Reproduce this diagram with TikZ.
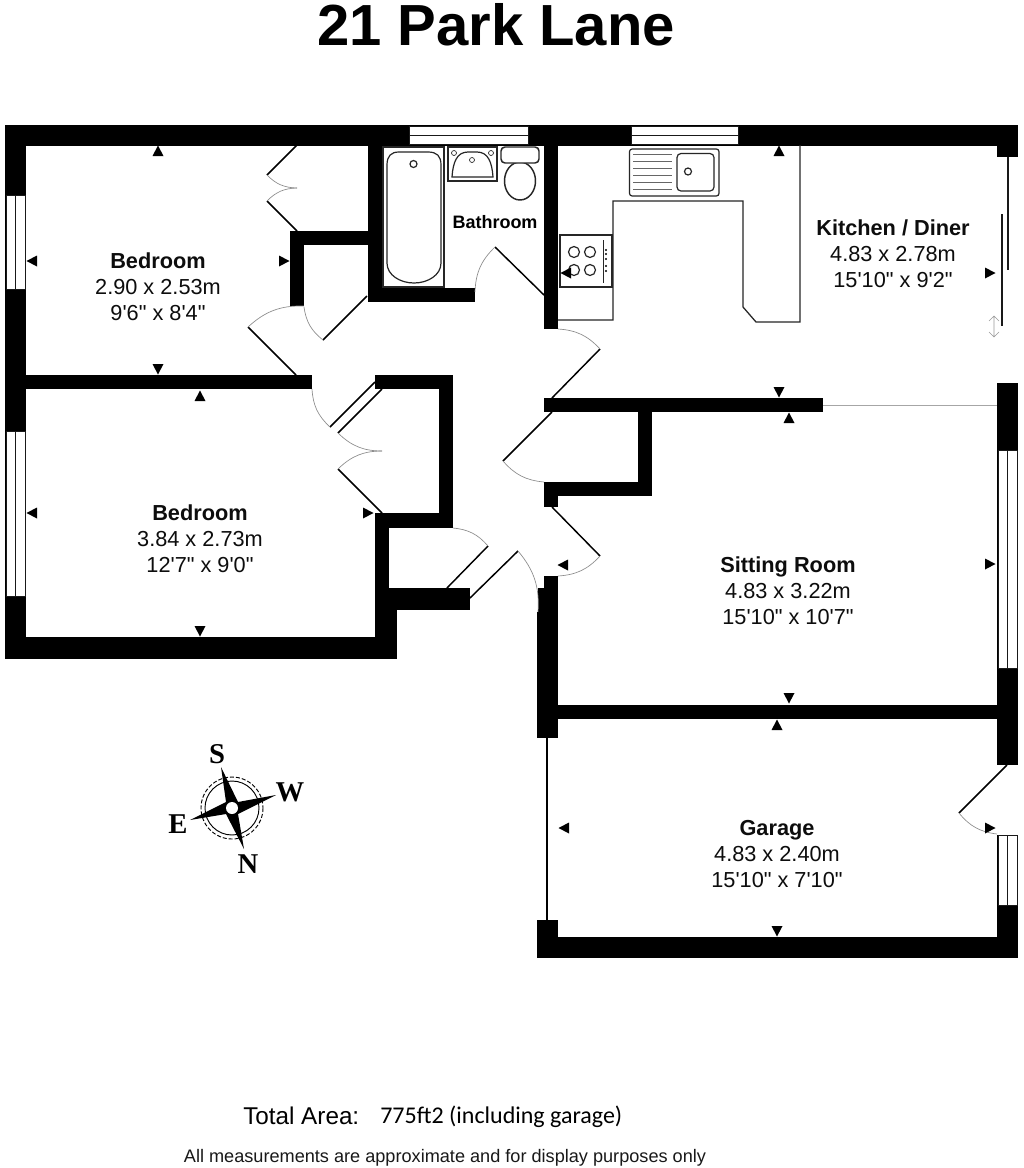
\documentclass[tikz,border=0pt]{standalone}
\usepackage{fontspec}
\newfontfamily\arial{Liberation Sans}
\newfontfamily\calib{Carlito}
\newfontfamily\tserif{Liberation Serif}
\newcommand{\wallbox}[4]{\fill[wall] (#1,#2) rectangle (#3,#4);}
\newcommand{\winH}[4]{\draw[winline] (#1,#2) rectangle (#3,#4); \draw[winmid] (#1,{(#2+#4)/2}) -- (#3,{(#2+#4)/2});}
\newcommand{\winV}[4]{\draw[winline] (#1,#2) rectangle (#3,#4); \draw[winmid] ({(#1+#3)/2},#2) -- ({(#1+#3)/2},#4);}
\newcommand{\triU}[2]{\fill[black] (#1-5.5,#2+5) -- (#1+5.5,#2+5) -- (#1,#2-5.5) -- cycle;}
\newcommand{\triD}[2]{\fill[black] (#1-5.5,#2-5) -- (#1+5.5,#2-5) -- (#1,#2+5.5) -- cycle;}
\newcommand{\triL}[2]{\fill[black] (#1+5,#2-5.5) -- (#1+5,#2+5.5) -- (#1-5.5,#2) -- cycle;}
\newcommand{\triR}[2]{\fill[black] (#1-5,#2-5.5) -- (#1-5,#2+5.5) -- (#1+5.5,#2) -- cycle;}
\newcommand{\doorleaf}[4]{\draw[door] (#1,#2) -- (#3,#4);}
\newcommand{\swing}[4]{\draw[swingline] (#1,#2) to[bend left=22] (#3,#4);}
\tikzset{
  wall/.style={fill=black},
  winline/.style={draw=black!90,fill=white,line width=0.7pt},
  winmid/.style={draw=black!90,line width=1pt},
  door/.style={draw=black,line width=1.1pt},
  swingline/.style={draw=black!45,line width=0.5pt},
  unitline/.style={draw=black!85,line width=0.95pt},
  fixture/.style={draw=black!85,line width=0.9pt},
  roomlabel/.style={align=center,inner sep=0pt,text=black!95,font=\arial\fontsize{16.3}{19.5}\selectfont},
  compassletter/.style={inner sep=0pt,font=\tserif\bfseries\fontsize{21.5}{21.5}\selectfont}
}
\begin{document}
\begin{tikzpicture}[x=0.75pt,y=-0.75pt]
\useasboundingbox (0,0) rectangle (1024,1168);
\fill[white] (0,0) rectangle (1024,1168);

% title
\node[inner sep=0pt,font=\arial\bfseries\fontsize{43.5}{50}\selectfont] (title) at (496,24.5) {21 Park Lane};

% outer and inner walls
\wallbox{5}{124.5}{1018}{145.5}
\wallbox{5}{124.5}{26}{659}
\wallbox{5}{637}{397}{659}
\wallbox{26}{375}{312}{389}
\wallbox{375}{375}{453}{389}
\wallbox{439}{375}{453}{528}
\wallbox{375}{513}{453}{528}
\wallbox{375}{513}{389}{659}
\wallbox{375}{588}{470}{610}
\wallbox{375}{610}{397}{659}
\wallbox{368}{145}{382}{302}
\wallbox{368}{288}{475}{302}
\wallbox{290}{231}{368}{245}
\wallbox{290}{231}{304}{306}
\wallbox{544}{124.5}{558}{329}
\wallbox{544}{398}{823}{412}
\wallbox{638}{398}{652}{496}
\wallbox{544}{482}{652}{496}
\wallbox{544}{482}{558}{507}
\wallbox{544}{576}{558}{738}
\wallbox{538}{588}{558}{612}
\wallbox{537}{612}{558}{738}
\wallbox{545}{705}{1018}{719}
\wallbox{997}{383}{1018}{765}
\wallbox{997}{124.5}{1018}{157}
\wallbox{997}{835}{1018}{958}
\wallbox{537}{937}{1018}{958}
\wallbox{537}{920}{558}{958}

% windows
\winH{409}{126}{528}{144.5}
\winH{631}{126}{738}{144.5}
\winV{6}{195}{25.5}{289}
\winV{6}{431}{25.5}{596}
\winV{998}{450}{1017.5}{668}
\winV{998}{835}{1017.5}{905}

% doors
\doorleaf{297}{145}{267}{175}
\swing{297}{188}{267}{175}
\doorleaf{267}{201}{297}{231}
\swing{267}{201}{297}{188}
\doorleaf{248}{327}{296}{375}
\swing{248}{327}{304}{306}
\doorleaf{323}{340}{367}{296}
\swing{323}{340}{304}{307}
\doorleaf{495}{247}{544}{295}
\swing{475}{292}{495}{247}
\doorleaf{600}{349}{552}{398}
\swing{558}{329}{600}{349}
\doorleaf{552}{412}{503}{461}
\swing{544}{482}{503}{461}
\doorleaf{552}{507}{600}{556}
\swing{600}{556}{558}{576}
\doorleaf{470}{598}{518}{551}
\swing{518}{551}{538}{612}
\doorleaf{447}{588}{488}{546}
\swing{453}{528}{488}{546}
\doorleaf{330}{427}{375}{382}
\swing{330}{427}{312}{389}
\doorleaf{338}{433}{382}{389}
\swing{382}{451}{338}{433}
\doorleaf{338}{469}{382}{513}
\swing{338}{469}{382}{451}
\doorleaf{1007}{765}{959}{813}
\swing{997}{834}{959}{813}

% garage opening, sliding door, open divide
\draw[black,line width=0.9pt] (547,738) -- (547,920);
\draw[black!90,line width=1.2pt] (1008,157) -- (1008,270);
\draw[black!90,line width=1.2pt] (1002,214) -- (1002,326);
\draw[black!35,line width=0.5pt] (823,405) -- (997,405);
\draw[black!40,line width=0.5pt] (994,316) -- (994,337)
  (989,321) -- (994,316) -- (999,321)
  (989,332) -- (994,337) -- (999,332);

% kitchen units
\draw[unitline] (800,145) -- (800,322) -- (756,322) -- (743,307) -- (743,201) -- (613,201) -- (613,320) -- (558,320);
\draw[fixture,rounded corners=2pt] (629.5,149) rectangle (719,196);
\draw[fixture,rounded corners=3pt] (677,153.5) rectangle (714,191);
\draw[fixture] (688,171.5) circle (3.5);
\foreach \yy in {154,161,168,175,182,189}{\draw[black!60,line width=0.7pt] (633,\yy) -- (672,\yy);}
\draw[fixture,fill=white] (560,235) rectangle (612,287);
\foreach \xx/\yy in {574/252,590/252,574/270,590/270}{\draw[fixture] (\xx,\yy) circle (5.5);}
\draw[black!85,line width=0.7pt] (603,240) -- (603,283);
\foreach \yy in {250,254,259,266,271}{\fill[black] (606,\yy) circle (1.1);}

% bathroom fixtures
\draw[fixture] (383,147) rectangle (444,287);
\draw[fixture] (387,165) .. controls (387,156) and (391,152) .. (399,152) -- (428,152) .. controls (437,152) and (441,156) .. (441,165) -- (441,263) .. controls (441,275) and (428,283) .. (414,283) .. controls (400,283) and (387,275) .. (387,263) -- cycle;
\draw[fixture] (413.5,164) circle (3.5);
\draw[fixture,line width=1.1pt] (448,147) rectangle (497,181);
\draw[fixture] (452,177) -- (493,177) .. controls (492,162) and (488,152) .. (477,152) -- (468,152) .. controls (457,152) and (453,162) .. (452,177) -- cycle;
\draw[fixture,line width=0.5pt] (454,153) circle (2.5) (491,153) circle (2.5) (472,160) circle (2.5);
\draw[fixture,line width=1.1pt] (520,181) ellipse (15.5 and 19);
\draw[fixture,line width=1.1pt,fill=white,rounded corners=3pt] (501,147) rectangle (539,163);

% dimension arrowheads
\triU{158}{151}\triD{158}{369}\triL{32}{261}\triR{284}{261}
\triU{200}{396}\triD{200}{631}\triL{32}{513}\triR{368}{513}
\triU{779}{151}\triD{779}{392}\triL{566}{273}\triR{990}{273}
\triU{789}{418}\triD{789}{698}\triL{563}{565}\triR{990}{564}
\triU{777}{725}\triD{777}{931}\triL{564}{828}\triR{990}{828}

% room labels
\node[roomlabel] (bedone) at (158,287) {\textbf{Bedroom}\\2.90 x 2.53m\\9'6" x 8'4"};
\node[roomlabel] (bedtwo) at (200,539) {\textbf{Bedroom}\\3.84 x 2.73m\\12'7" x 9'0"};
\node[inner sep=0pt,font=\arial\bfseries\fontsize{13.5}{16}\selectfont] (bath) at (495,222) {Bathroom};
\node[roomlabel] (kitchen) at (893,254) {\textbf{Kitchen / Diner}\\4.83 x 2.78m\\15'10" x 9'2"};
\node[roomlabel] (sitting) at (788,591) {\textbf{Sitting Room}\\4.83 x 3.22m\\15'10" x 10'7"};
\node[roomlabel] (garage) at (777,854) {\textbf{Garage}\\4.83 x 2.40m\\15'10" x 7'10"};

% compass
\coordinate (cc) at (232,808);
\draw[black,line width=0.7pt] (cc) circle (27);
\draw[black,line width=0.7pt,dash pattern=on 3pt off 1.5pt] (cc) circle (31);
\fill[black] (221,767) -- (238,802) -- (276,795) -- (238,814) -- (244,849) -- (226,814) -- (190,820) -- (226,802) -- cycle;
\fill[white] (cc) circle (6);
\node[compassletter] (compS) at (217,754) {S};
\node[compassletter] (compW) at (290,792) {W};
\node[compassletter] (compE) at (178,824) {E};
\node[compassletter] (compN) at (248,864) {N};

% footer
\node[anchor=base west,inner sep=0pt,font=\arial\fontsize{18.2}{22}\selectfont] (total) at (243,1124) {Total Area:};
\node[anchor=base west,inner sep=0pt,font=\calib\fontsize{18}{20}\selectfont] (area) at (380,1123) {775ft2 (including garage)};
\node[anchor=base,inner sep=0pt,font=\arial\fontsize{13.6}{16}\selectfont,text=black!90] (note) at (445,1162) {All measurements are approximate and for display purposes only};
\end{tikzpicture}
\end{document}
